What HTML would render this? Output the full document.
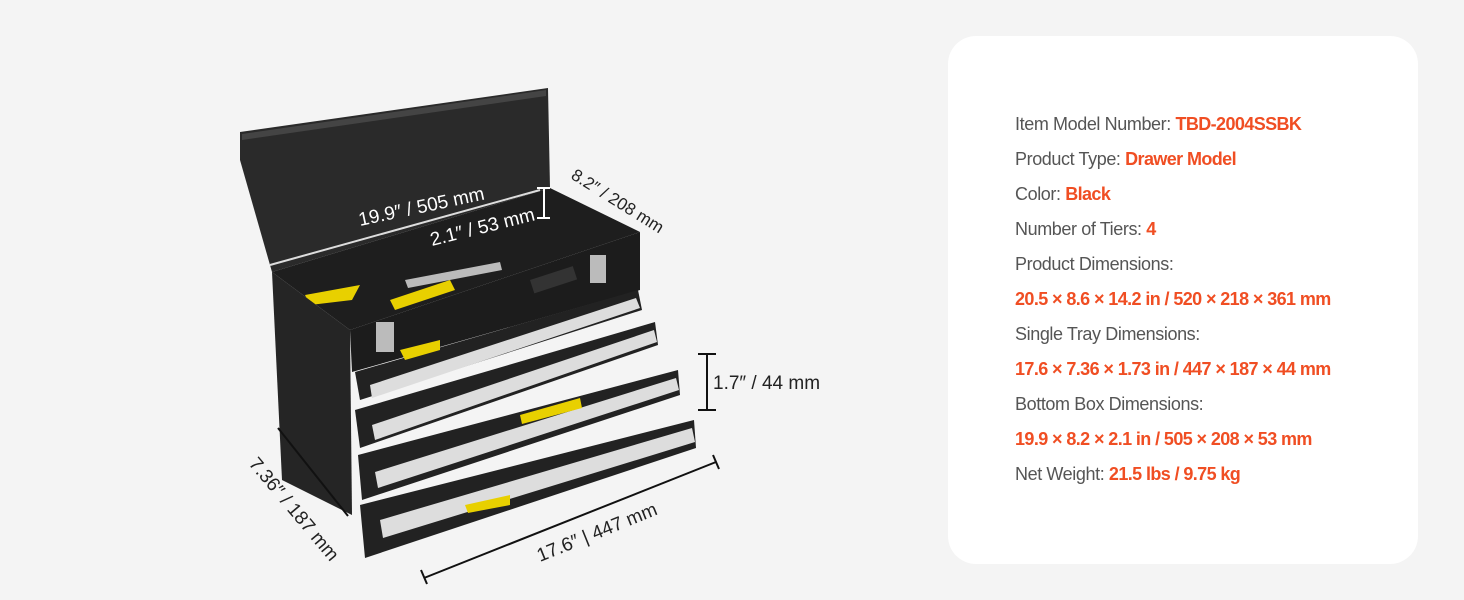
<!DOCTYPE html>
<html><head><meta charset="utf-8"><style>
body{margin:0;width:1464px;height:600px;background:#f4f4f4;position:relative;overflow:hidden;font-family:"Liberation Sans",sans-serif}
.card{position:absolute;left:948px;top:36px;width:470px;height:528px;background:#fff;border-radius:28px}
.t{position:absolute;left:1015px;font-size:18px;color:#555;letter-spacing:-0.4px;white-space:nowrap}
.o{color:#f04e23;font-weight:bold;letter-spacing:-0.6px}
svg{position:absolute;left:0;top:0}
</style></head><body>
<div class="card"></div>
<div class="t" style="top:114px">Item Model Number: <span class="o">TBD-2004SSBK</span></div>
<div class="t" style="top:149px">Product Type: <span class="o">Drawer Model</span></div>
<div class="t" style="top:184px">Color: <span class="o">Black</span></div>
<div class="t" style="top:219px">Number of Tiers: <span class="o">4</span></div>
<div class="t" style="top:254px">Product Dimensions:</div>
<div class="t" style="top:289px"><span class="o">20.5 × 8.6 × 14.2 in / 520 × 218 × 361 mm</span></div>
<div class="t" style="top:324px">Single Tray Dimensions:</div>
<div class="t" style="top:359px"><span class="o">17.6 × 7.36 × 1.73 in / 447 × 187 × 44 mm</span></div>
<div class="t" style="top:394px">Bottom Box Dimensions:</div>
<div class="t" style="top:429px"><span class="o">19.9 × 8.2 × 2.1 in / 505 × 208 × 53 mm</span></div>
<div class="t" style="top:464px">Net Weight: <span class="o">21.5 lbs / 9.75 kg</span></div>
<svg width="1464" height="600" font-family="Liberation Sans" font-size="19" fill="#222">
<polygon points="240,132 548,88 550,188 272,272 240,160" fill="#2a2a2a"/>
<polygon points="242,134 546,90 546,96 242,140" fill="#444"/>
<polygon points="272,272 550,188 640,232 350,330" fill="#1e1e1e"/>
<polygon points="305,295 360,285 352,300 310,305" fill="#e8d000"/>
<polygon points="390,300 450,280 455,290 395,310" fill="#e8d000"/>
<polygon points="405,280 500,262 502,270 408,288" fill="#bbb"/>
<polygon points="272,272 350,330 352,515 282,480" fill="#252525"/>
<polygon points="350,330 640,232 640,290 352,372" fill="#1c1c1c"/>
<rect x="530" y="280" width="45" height="14" fill="#333" transform="rotate(-18 530 280)"/>
<g>
<polygon points="355,372 638,290 642,310 360,400" fill="#222"/>
<polygon points="370,385 636,298 640,308 372,398" fill="#ddd"/>
<polygon points="355,410 655,322 658,345 360,448" fill="#222"/>
<polygon points="372,425 654,330 657,342 375,440" fill="#ddd"/>
<polygon points="358,455 678,370 680,395 362,500" fill="#222"/>
<polygon points="375,472 676,378 679,390 378,488" fill="#ddd"/>
<polygon points="360,505 694,420 696,448 365,558" fill="#222"/>
<polygon points="380,520 692,428 695,442 383,538" fill="#ddd"/>
<polygon points="400,350 440,340 440,350 405,360" fill="#e8d000"/>
<polygon points="520,415 580,398 582,408 522,424" fill="#e8d000"/>
<polygon points="465,505 510,495 510,505 468,513" fill="#e8d000"/>
</g>
<rect x="376" y="322" width="18" height="30" fill="#bbb"/>
<rect x="590" y="255" width="16" height="28" fill="#bbb"/>
<g stroke="#111" stroke-width="2" fill="none">
<line x1="270" y1="265" x2="540" y2="190" stroke="#ddd"/>
<line x1="537" y1="188" x2="550" y2="188" stroke="#fff"/><line x1="537" y1="218" x2="550" y2="218" stroke="#fff"/><line x1="544" y1="188" x2="544" y2="218" stroke="#fff"/>
<line x1="698" y1="354" x2="716" y2="354"/><line x1="698" y1="410" x2="716" y2="410"/><line x1="707" y1="354" x2="707" y2="410"/>
<line x1="424" y1="578" x2="716" y2="462"/><line x1="421" y1="570" x2="427" y2="584"/><line x1="713" y1="455" x2="719" y2="469"/>
<line x1="278" y1="428" x2="348" y2="516"/>
</g>
<text x="360" y="226" transform="rotate(-12 360 226)" fill="#fff">19.9″ / 505 mm</text>
<text x="432" y="246" transform="rotate(-14 432 246)" fill="#fff">2.1″ / 53 mm</text>
<text x="570" y="178" transform="rotate(32 570 178)" font-size="17">8.2″ / 208 mm</text>
<text x="713" y="389">1.7″ / 44 mm</text>
<text x="540" y="562" transform="rotate(-22 540 562)">17.6″ | 447 mm</text>
<text x="248" y="464" transform="rotate(50 248 464)">7.36″ / 187 mm</text>
</svg>
</body></html>
